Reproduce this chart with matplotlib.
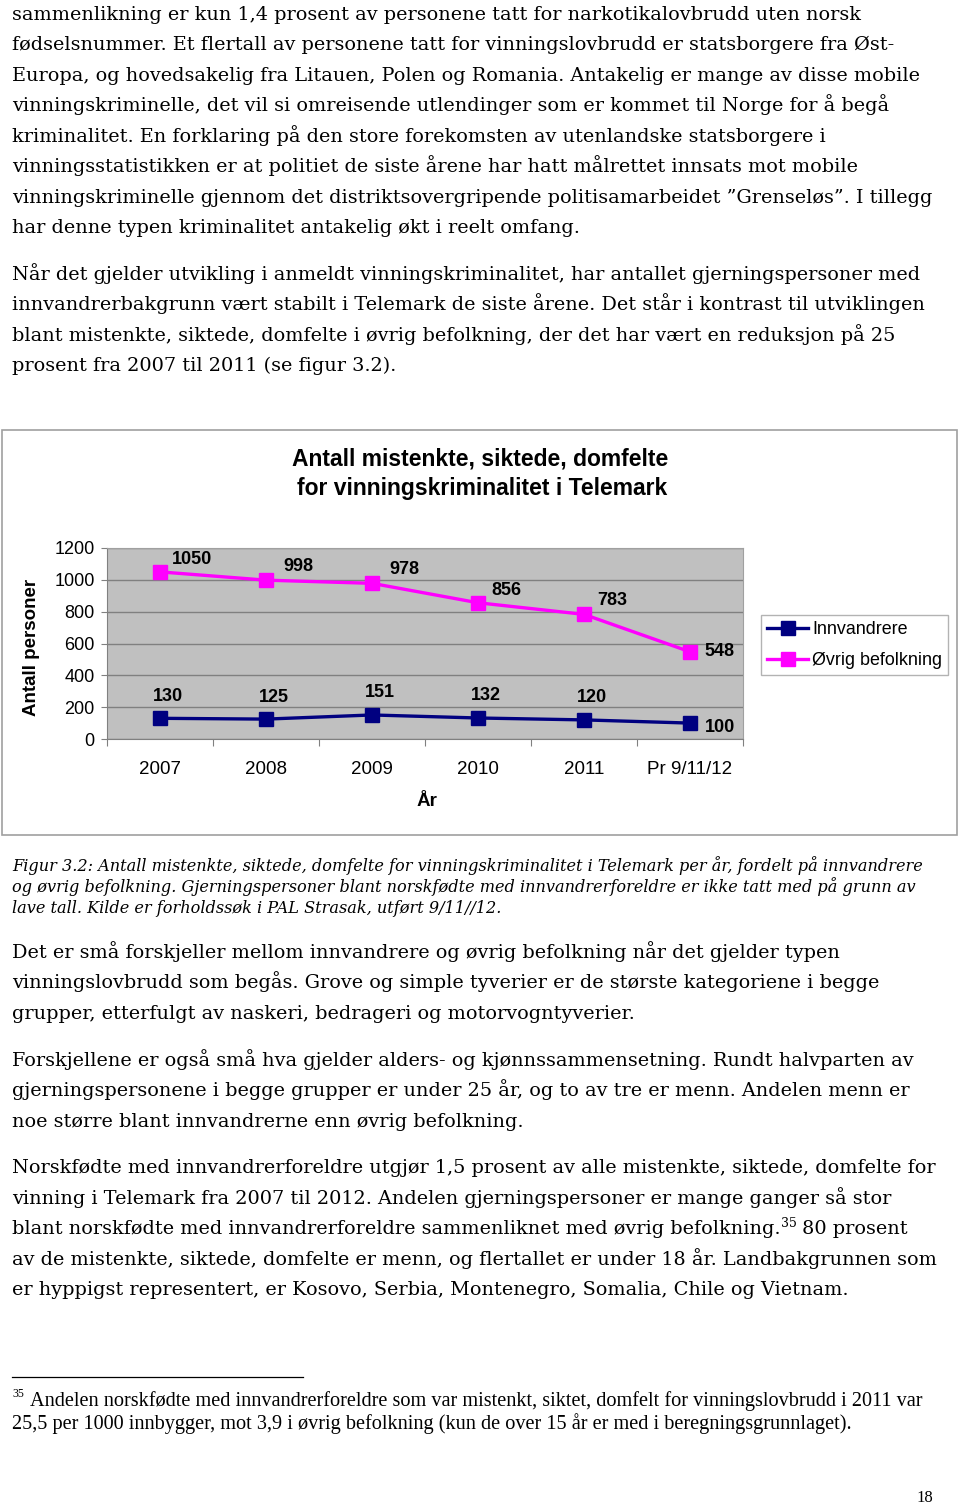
import matplotlib
matplotlib.use("Agg")
import matplotlib.pyplot as plt
from matplotlib.patches import Rectangle
from matplotlib.lines import Line2D

# ---------------- data ----------------
categories = ["2007", "2008", "2009", "2010", "2011", "Pr 9/11/12"]
innvandrere = [130, 125, 151, 132, 120, 100]
ovrig = [1050, 998, 978, 856, 783, 548]
series_names = ["Innvandrere", "Øvrig befolkning"]
yticks = [0, 200, 400, 600, 800, 1000, 1200]

title_lines = ["Antall mistenkte, siktede, domfelte", "for vinningskriminalitet i Telemark"]

para1 = [
    "sammenlikning er kun 1,4 prosent av personene tatt for narkotikalovbrudd uten norsk",
    "fødselsnummer. Et flertall av personene tatt for vinningslovbrudd er statsborgere fra Øst-",
    "Europa, og hovedsakelig fra Litauen, Polen og Romania. Antakelig er mange av disse mobile",
    "vinningskriminelle, det vil si omreisende utlendinger som er kommet til Norge for å begå",
    "kriminalitet. En forklaring på den store forekomsten av utenlandske statsborgere i",
    "vinningsstatistikken er at politiet de siste årene har hatt målrettet innsats mot mobile",
    "vinningskriminelle gjennom det distriktsovergripende politisamarbeidet ”Grenseløs”. I tillegg",
    "har denne typen kriminalitet antakelig økt i reelt omfang.",
]
para2 = [
    "Når det gjelder utvikling i anmeldt vinningskriminalitet, har antallet gjerningspersoner med",
    "innvandrerbakgrunn vært stabilt i Telemark de siste årene. Det står i kontrast til utviklingen",
    "blant mistenkte, siktede, domfelte i øvrig befolkning, der det har vært en reduksjon på 25",
    "prosent fra 2007 til 2011 (se figur 3.2).",
]
caption = [
    "Figur 3.2: Antall mistenkte, siktede, domfelte for vinningskriminalitet i Telemark per år, fordelt på innvandrere",
    "og øvrig befolkning. Gjerningspersoner blant norskfødte med innvandrerforeldre er ikke tatt med på grunn av",
    "lave tall. Kilde er forholdssøk i PAL Strasak, utført 9/11//12.",
]
para3 = [
    "Det er små forskjeller mellom innvandrere og øvrig befolkning når det gjelder typen",
    "vinningslovbrudd som begås. Grove og simple tyverier er de største kategoriene i begge",
    "grupper, etterfulgt av naskeri, bedrageri og motorvogntyverier.",
]
para4 = [
    "Forskjellene er også små hva gjelder alders- og kjønnssammensetning. Rundt halvparten av",
    "gjerningspersonene i begge grupper er under 25 år, og to av tre er menn. Andelen menn er",
    "noe større blant innvandrerne enn øvrig befolkning.",
]
para5 = [
    "Norskfødte med innvandrerforeldre utgjør 1,5 prosent av alle mistenkte, siktede, domfelte for",
    "vinning i Telemark fra 2007 til 2012. Andelen gjerningspersoner er mange ganger så stor",
    ("blant norskfødte med innvandrerforeldre sammenliknet med øvrig befolkning.", "35", " 80 prosent"),
    "av de mistenkte, siktede, domfelte er menn, og flertallet er under 18 år. Landbakgrunnen som",
    "er hyppigst representert, er Kosovo, Serbia, Montenegro, Somalia, Chile og Vietnam.",
]
footnote = [
    "Andelen norskfødte med innvandrerforeldre som var mistenkt, siktet, domfelt for vinningslovbrudd i 2011 var",
    "25,5 per 1000 innbygger, mot 3,9 i øvrig befolkning (kun de over 15 år er med i beregningsgrunnlaget).",
]

# ---------------- figure ----------------
W, H = 960, 1506
fig = plt.figure(figsize=(W / 100, H / 100), dpi=100)
fig.patch.set_facecolor("white")

def fx(x):
    return x / W

def fy(y):
    return 1 - y / H

SERIF = "DejaVu Serif"
body_size = 13.9

def block(lines, y0, step, size=body_size, style="normal", family=SERIF):
    for i, ln in enumerate(lines):
        fig.text(fx(12), fy(y0 + i * step), ln, fontsize=size, family=family,
                 style=style, va="baseline", ha="left", color="black")

block(para1, 20, 30.45)
block(para2, 280, 30.4)
block(caption, 871, 21, size=11.6, style="italic")
block(para3, 958, 30.5)
block(para4, 1066, 30.5)

renderer = fig.canvas.get_renderer()
for i, ln in enumerate(para5):
    y = 1173 + i * 30.6
    if isinstance(ln, tuple):
        t = fig.text(fx(12), fy(y), ln[0], fontsize=body_size, family=SERIF, va="baseline")
        bb = t.get_window_extent(renderer)
        t2 = fig.text(bb.x1 / W, fy(y - 7), ln[1], fontsize=9, family=SERIF, va="baseline")
        bb2 = t2.get_window_extent(renderer)
        fig.text(bb2.x1 / W, fy(y), ln[2], fontsize=body_size, family=SERIF, va="baseline")
    else:
        fig.text(fx(12), fy(y), ln, fontsize=body_size, family=SERIF, va="baseline")

# footnote
fig.add_artist(Line2D([fx(12), fx(303)], [fy(1377), fy(1377)], color="black", lw=0.9))
fig.text(fx(12), fy(1397), "35", fontsize=8.5, family="Liberation Serif", va="baseline")
fig.text(fx(30), fy(1406), footnote[0], fontsize=14.6, family="Liberation Serif", va="baseline")
fig.text(fx(12), fy(1429), footnote[1], fontsize=14.6, family="Liberation Serif", va="baseline")
fig.text(fx(933), fy(1502), "18", fontsize=12, family="Liberation Serif", va="baseline", ha="right")

# ---------------- chart frame ----------------
fig.add_artist(Rectangle((fx(2), fy(835)), fx(957) - fx(2), fy(430) - fy(835),
                         transform=fig.transFigure, facecolor="white",
                         edgecolor="#a0a0a0", lw=1.2, zorder=0))

SANS = "Liberation Sans"
fig.text(fx(480), fy(459), title_lines[0], fontsize=16.5, family=SANS, weight="bold",
         ha="center", va="center")
fig.text(fx(482), fy(489), title_lines[1], fontsize=16.5, family=SANS, weight="bold",
         ha="center", va="center")

ax = fig.add_axes([fx(107), fy(739), (743 - 107) / W, (739 - 548) / H])
ax.set_facecolor("#c0c0c0")
x = list(range(len(categories)))
ax.set_xlim(-0.5, len(categories) - 0.5)
ax.set_ylim(0, 1200)
ax.set_yticks(yticks)
ax.set_yticklabels([str(v) for v in yticks], fontsize=13, family=SANS)
ax.yaxis.grid(True, color="#808080", lw=1.0)
ax.set_axisbelow(True)
ax.set_xticks([i - 0.5 for i in range(len(categories) + 1)], minor=False)
ax.set_xticklabels([])
ax.set_xticks(x, minor=True)
ax.set_xticklabels(categories, minor=True, fontsize=13.5, family=SANS)
ax.tick_params(axis="x", which="major", length=5, color="#808080", direction="out")
ax.tick_params(axis="x", which="minor", length=0, pad=16)
ax.tick_params(axis="y", length=4, color="#808080", pad=5)
for side in ["top", "right"]:
    ax.spines[side].set_color("#a0a0a0")
ax.spines["left"].set_color("#808080")
ax.spines["bottom"].set_color("#808080")

l1, = ax.plot(x, innvandrere, color="#000080", lw=2.4, marker="s", ms=10,
              label=series_names[0], clip_on=False, zorder=3)
l2, = ax.plot(x, ovrig, color="#ff00ff", lw=2.4, marker="s", ms=10,
              label=series_names[1], clip_on=False, zorder=3)

n = len(categories)
for i, v in enumerate(innvandrere):
    if i == n - 1:
        off = (15, -4)
        ha = "left"
    else:
        off = (8, 22)
        ha = "center"
    ax.annotate(str(v), (x[i], v), xytext=off, textcoords="offset pixels",
                ha=ha, va="center", fontsize=13, weight="bold", family=SANS)
for i, v in enumerate(ovrig):
    if i == n - 1:
        off = (14, 0)
        ha = "left"
    else:
        off = (28 if i in (3, 4) else 32, 12 if i in (0, 3) else 14)
        ha = "center"
    ax.annotate(str(v), (x[i], v), xytext=off, textcoords="offset pixels",
                ha=ha, va="center", fontsize=13, weight="bold", family=SANS)

fig.text(fx(32), fy(647), "Antall personer", rotation=90, fontsize=13.5, family=SANS,
         weight="bold", ha="center", va="center")
fig.text(fx(427), fy(801), "År", fontsize=13.5, family=SANS, weight="bold",
         ha="center", va="center")

leg = fig.legend(handles=[l1, l2], loc="center left",
                 bbox_to_anchor=(fx(761), fy(645)), frameon=True, fancybox=False,
                 edgecolor="#a0a0a0", prop={"family": SANS, "size": 12.9},
                 handlelength=2.3, handletextpad=0.2, borderpad=0.35, labelspacing=0.8,
                 borderaxespad=0)
leg.get_frame().set_linewidth(1.0)

fig.savefig("out.png", dpi=100, facecolor="white")
